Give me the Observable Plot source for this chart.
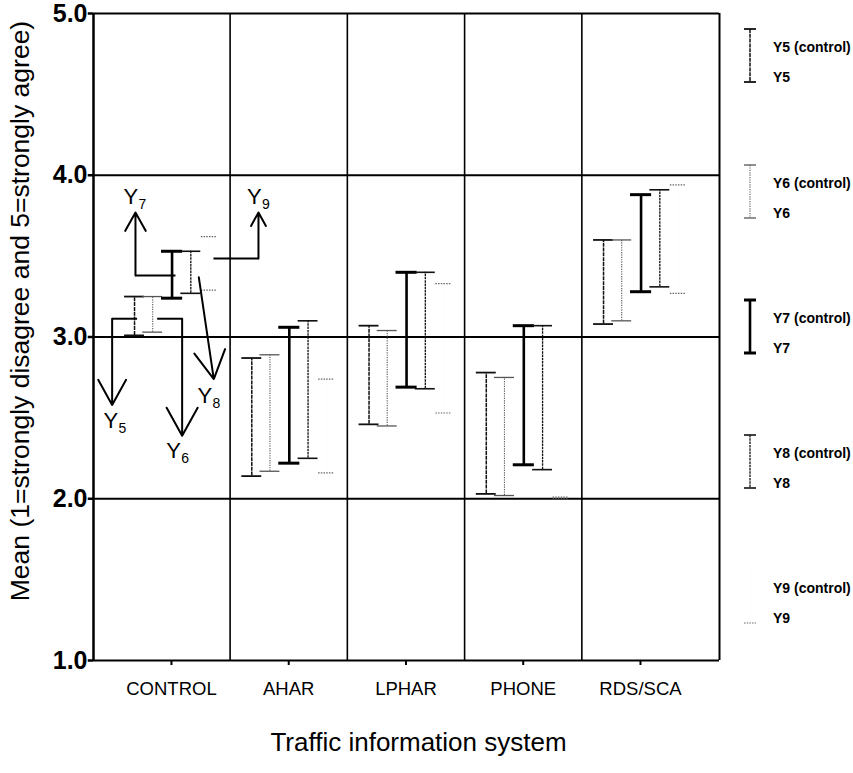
<!DOCTYPE html>
<html><head><meta charset="utf-8">
<script src="https://cdn.jsdelivr.net/npm/d3@7"></script>
<script src="https://cdn.jsdelivr.net/npm/@observablehq/plot@0.6"></script>
<style>
body{margin:0;background:#fff;font-family:"Liberation Sans",Arial,sans-serif}
#chart{width:853px;height:773px}
</style>
</head><body><div id="chart"></div>
<script>
// ---- data ----
const categories = ["CONTROL", "AHAR", "LPHAR", "PHONE", "RDS/SCA"];
const seriesNames = ["Y5", "Y6", "Y7", "Y8", "Y9"];
const y5Low  = [3.01, 2.14, 2.46, 2.03, 3.08];
const y5High = [3.25, 2.87, 3.07, 2.78, 3.60];
const y6Low  = [3.03, 2.17, 2.45, 2.02, 3.10];
const y6High = [3.25, 2.89, 3.04, 2.75, 3.60];
const y7Low  = [3.24, 2.22, 2.69, 2.21, 3.28];
const y7High = [3.53, 3.06, 3.40, 3.07, 3.88];
const y8Low  = [3.27, 2.25, 2.68, 2.18, 3.31];
const y8High = [3.53, 3.10, 3.40, 3.07, 3.91];
const y9Low  = [3.29, 2.16, 2.53, 2.00, 3.27];
const y9High = [3.62, 2.74, 3.33, 2.01, 3.94];
const yTicks = [1, 2, 3, 4, 5];
const gridValues = [2, 3, 4, 5];
const yTitle = "Mean (1=strongly disagree and 5=strongly agree)";
const xTitle = "Traffic information system";
// hand-drawn call-outs in the CONTROL panel (x in category units, y in mean units)
const calloutNames  = ["Y5", "Y6", "Y7", "Y8", "Y9"];
const calloutStartX = [-0.293, -0.122, 0.034, 0.233, 0.358];
const calloutStartY = [3.113, 3.113, 3.38, 3.37, 3.485];
const calloutTurnX  = [-0.506, 0.091, -0.307, 0.233, 0.742];
const calloutTipX   = [-0.506, 0.091, -0.307, 0.361, 0.742];
const calloutTipY   = [2.58, 2.39, 3.77, 2.74, 3.77];
const calloutLabelX = [-0.58, -0.045, -0.41, 0.222, 0.645];
const calloutLabelY = [2.44, 2.255, 3.82, 2.595, 3.82];

// ---- build tables ----
const lows = [y5Low, y6Low, y7Low, y8Low, y9Low];
const highs = [y5High, y6High, y7High, y8High, y9High];
const offsets = [-0.315, -0.16, 0.005, 0.165, 0.32];
const rows = [];
categories.forEach((c, i) => seriesNames.forEach((s, j) => {
  rows.push({cat: c, series: s, x: i + offsets[j], lo: lows[j][i], hi: highs[j][i]});
}));
const styles = {
  Y5: {stroke: "#111", strokeWidth: 1.5, dash: "4,0.8", cap: 0.085, capW: 1.8, barOpacity: 1},
  Y6: {stroke: "#555", strokeWidth: 1.1, dash: "1.2,1.2", cap: 0.085, capW: 1.3, barOpacity: 1},
  Y7: {stroke: "#000", strokeWidth: 2.6, dash: null, cap: 0.09, capW: 3, barOpacity: 1},
  Y8: {stroke: "#111", strokeWidth: 1.3, dash: "2.5,0.8", cap: 0.085, capW: 1.6, barOpacity: 1},
  Y9: {stroke: "#666", strokeWidth: 1, dash: "1.5,1.2", cap: 0.065, capW: 1.2, barOpacity: 0.04}
};
const callouts = calloutNames.map((n, k) => ({
  name: n, sx: calloutStartX[k], sy: calloutStartY[k], tx: calloutTurnX[k],
  ax: calloutTipX[k], ay: calloutTipY[k], lx: calloutLabelX[k], ly: calloutLabelY[k]
}));

const font = "Liberation Sans, Arial, sans-serif";
const xDomain = [-0.665, 4.674];
const tickLen = 0.045; // y-axis tick length in x units (~5px)

const barMarks = seriesNames.flatMap(s => {
  const st = styles[s];
  const d = rows.filter(r => r.series === s);
  return [
    Plot.ruleX(d, {x: "x", y1: "lo", y2: "hi", stroke: st.stroke, strokeWidth: st.strokeWidth,
      strokeDasharray: st.dash, strokeOpacity: st.barOpacity}),
    Plot.ruleY(d, {y: "hi", x1: r => r.x - st.cap, x2: r => r.x + st.cap, stroke: st.stroke,
      strokeWidth: st.capW, strokeDasharray: s === "Y9" ? st.dash : null}),
    Plot.ruleY(d, {y: "lo", x1: r => r.x - st.cap, x2: r => r.x + st.cap, stroke: st.stroke,
      strokeWidth: st.capW, strokeDasharray: s === "Y9" ? st.dash : null})
  ];
});

const chart = Plot.plot({
  width: 853,
  height: 773,
  marginLeft: 93,
  marginRight: 134,
  marginTop: 13,
  marginBottom: 113,
  style: {fontFamily: font, background: "white", color: "black"},
  x: {type: "linear", domain: xDomain, axis: null},
  y: {domain: [1, 5], axis: null},
  marks: [
    Plot.ruleY(gridValues, {stroke: "black", strokeWidth: 2}),
    Plot.ruleX(categories.slice(1).map((_, i) => i + 0.5), {stroke: "black", strokeWidth: 1.6}),
    Plot.ruleX([xDomain[0]], {stroke: "black", strokeWidth: 2.5}),
    Plot.ruleX([xDomain[1]], {stroke: "black", strokeWidth: 2}),
    Plot.ruleY([1], {stroke: "black", strokeWidth: 2}),
    ...barMarks,
    // call-outs
    Plot.link(callouts, {x1: "sx", y1: "sy", x2: "tx", y2: "sy", stroke: "black", strokeWidth: 2}),
    Plot.arrow(callouts, {x1: "tx", y1: "sy", x2: "ax", y2: "ay", stroke: "black", strokeWidth: 2,
      headLength: 24, headAngle: 58}),
    Plot.text(callouts, {x: "lx", y: "ly", text: d => d.name.slice(0, 1), textAnchor: "start",
      lineAnchor: "bottom", fontSize: 22, fill: "black"}),
    Plot.text(callouts, {x: "lx", y: "ly", text: d => d.name.slice(1), textAnchor: "start",
      lineAnchor: "bottom", fontSize: 14, dx: 15, dy: 5, fill: "black"}),
    // y axis ticks and labels
    Plot.ruleY(yTicks, {x1: xDomain[0] - tickLen, x2: xDomain[0], stroke: "black", strokeWidth: 2.5}),
    Plot.text(yTicks, {y: d => d, text: d => d.toFixed(1), frameAnchor: "left", textAnchor: "end",
      dx: -6, fontSize: 25, fontWeight: "bold", fill: "black"}),
    // x axis
    Plot.axisX(categories.map((_, i) => i), {anchor: "bottom", tickFormat: i => categories[i],
      tickSize: 5, tickPadding: 16, fontSize: 18.5, strokeWidth: 2, label: null}),
    Plot.text([yTitle], {frameAnchor: "left", textAnchor: "middle", rotate: -90, dx: -73, dy: -26,
      fontSize: 26.5}),
    Plot.text([xTitle], {frameAnchor: "bottom", dy: 90, dx: 12, fontSize: 26})
  ]
});
document.getElementById("chart").appendChild(chart);

// ---- legend (drawn into the same svg) ----
const svg = d3.select(chart);
const legendTops = [29, 165, 300, 435, 570];
const lg = svg.append("g").attr("font-family", font).attr("font-size", 14)
  .attr("font-weight", "bold").attr("text-anchor", "start");
seriesNames.forEach((s, k) => {
  const st = styles[s];
  const top = legendTops[k], bot = top + 53, cx = 750;
  lg.append("line").attr("x1", cx).attr("x2", cx).attr("y1", top).attr("y2", bot)
    .attr("stroke", st.stroke).attr("stroke-width", st.strokeWidth)
    .attr("stroke-dasharray", st.dash).attr("stroke-opacity", st.barOpacity);
  [top, bot].forEach(yy => lg.append("line").attr("x1", cx - 6).attr("x2", cx + 6)
    .attr("y1", yy).attr("y2", yy).attr("stroke", st.stroke).attr("stroke-width", st.capW)
    .attr("stroke-dasharray", s === "Y9" ? st.dash : null)
    .attr("stroke-opacity", s === "Y9" && yy === top ? 0 : 1));
  lg.append("text").attr("x", 773).attr("y", top + 18).attr("dy", "0.35em").text(s + " (control)");
  lg.append("text").attr("x", 773).attr("y", bot - 5).attr("dy", "0.35em").text(s);
});
</script>
</body></html>
